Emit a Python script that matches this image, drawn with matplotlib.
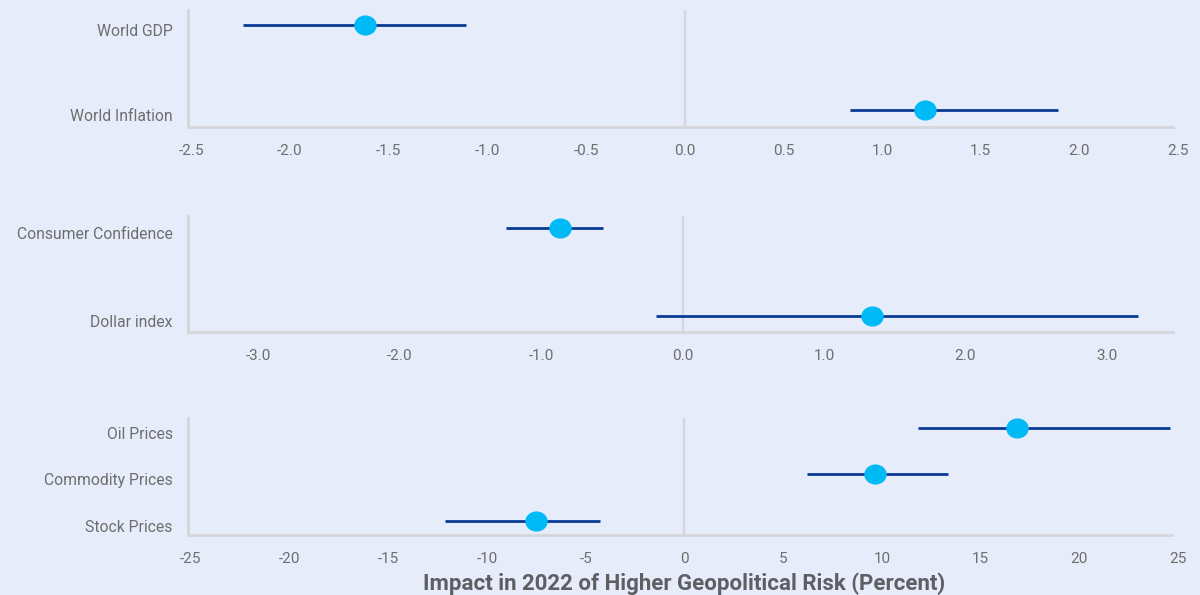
import matplotlib
matplotlib.use("Agg")
import matplotlib.pyplot as plt
from matplotlib.markers import MarkerStyle
from matplotlib.transforms import Affine2D, ScaledTranslation

plt.rcParams['font.family'] = ['Roboto', 'DejaVu Sans']

# ---- data ----
p1_labels = ["World Inflation", "World GDP"]
p1_point = [1.22, -1.62]
p1_low = [0.84, -2.24]
p1_high = [1.89, -1.11]
p1_ticks = [-2.5, -2.0, -1.5, -1.0, -0.5, 0.0, 0.5, 1.0, 1.5, 2.0, 2.5]

p2_labels = ["Dollar index", "Consumer Confidence"]
p2_point = [1.34, -0.87]
p2_low = [-0.19, -1.25]
p2_high = [3.22, -0.56]
p2_ticks = [-3.0, -2.0, -1.0, 0.0, 1.0, 2.0, 3.0]

p3_labels = ["Stock Prices", "Commodity Prices", "Oil Prices"]
p3_point = [-7.52, 9.65, 16.84]
p3_low = [-12.13, 6.2, 11.83]
p3_high = [-4.28, 13.35, 24.6]
p3_ticks = [-25, -20, -15, -10, -5, 0, 5, 10, 15, 20, 25]

xlabel = "Impact in 2022 of Higher Geopolitical Risk (Percent)"

BG = "#E6ECFA"
GRID = "#D6D6DA"
NAVY = "#0A3A97"
CYAN = "#00BAF6"
TXT = "#6E6E6E"

fig = plt.figure(figsize=(12, 5.95), dpi=100)
fig.patch.set_facecolor(BG)

W, H = 1200, 595

def make_ax(top, bottom, left, right):
    ax = fig.add_axes([left / W, 1 - bottom / H, (right - left) / W, (bottom - top) / H])
    ax.set_facecolor(BG)
    ax.patch.set_alpha(0)
    return ax

mk = MarkerStyle('o', transform=Affine2D().scale(1.12, 1.0))

panels = [
    (p1_labels, p1_point, p1_low, p1_high, p1_ticks, "{:.1f}", (-2.517, 2.5), (-0.2, 1.176), 2.477, 10, 127, 1178),
    (p2_labels, p2_point, p2_low, p2_high, p2_ticks, "{:.1f}", (-3.50, 3.47), (-0.18, 1.136), 3.47, 216, 332, 1173),
    (p3_labels, p3_point, p3_low, p3_high, p3_ticks, "{:d}", (-25.15, 25.0), (-0.3, 2.21), 24.7, 418, 535, 1178),
]

offset = ScaledTranslation(0, -5 / 100, fig.dpi_scale_trans)

for labels, pt, lo, hi, ticks, fmt, xl, yl, xend, top, bot, right in panels:
    ax = make_ax(top, bot, 188, right)
    ys = list(range(len(labels)))
    ax.axvline(0, color=GRID, lw=1.6, zorder=1)
    ax.hlines(ys, lo, hi, color=NAVY, lw=2.0, zorder=2)
    ax.plot(pt, ys, linestyle='none', marker=mk, ms=13.5, color=CYAN, zorder=3)
    ax.set_xlim(*xl)
    ax.set_ylim(*yl)
    ax.set_yticks(ys)
    ax.set_yticklabels(labels)
    ax.set_xticks(ticks)
    ax.set_xticklabels([fmt.format(t) for t in ticks])
    for s in ['top', 'right']:
        ax.spines[s].set_visible(False)
    for s in ['left', 'bottom']:
        ax.spines[s].set_color(GRID)
        ax.spines[s].set_linewidth(2.0)
    ax.spines['bottom'].set_bounds(xl[0], xend)
    ax.tick_params(axis='both', length=0, colors=TXT)
    ax.tick_params(axis='x', pad=12, labelsize=11)
    ax.tick_params(axis='y', pad=11, labelsize=11.3)
    for lab in ax.get_yticklabels():
        lab.set_transform(lab.get_transform() + offset)

fig.text(684 / W, 1 - 584 / H, xlabel, ha='center', va='center',
         fontsize=16, fontweight='bold', color="#5F5F63")

fig.savefig("out.png", dpi=100, facecolor=BG)
